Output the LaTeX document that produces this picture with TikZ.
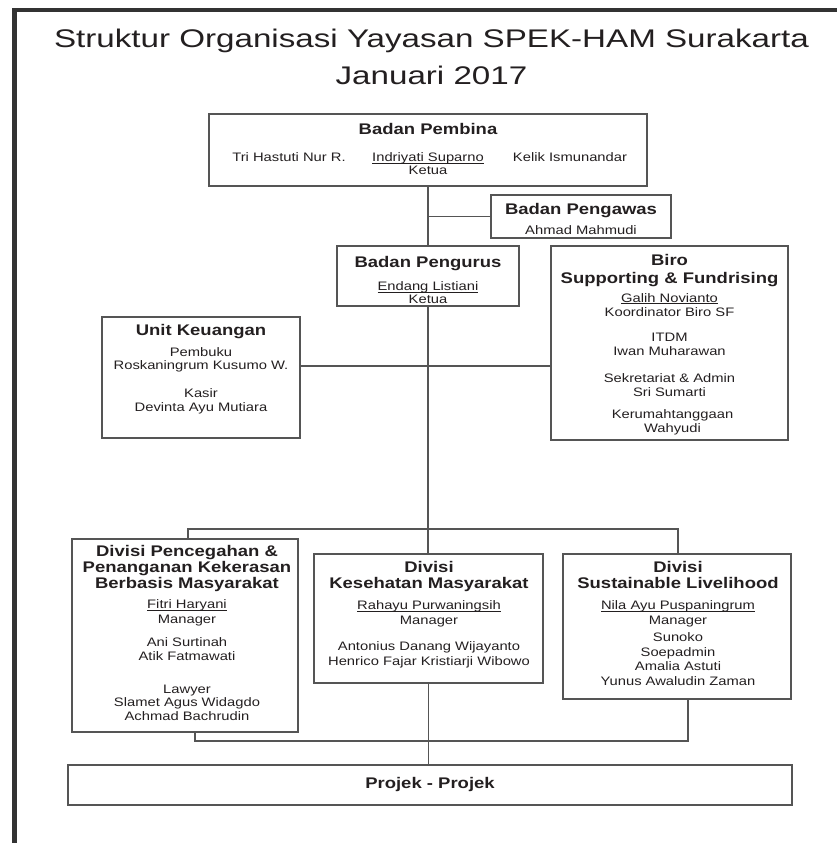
\documentclass[tikz,border=0pt]{standalone}
\usepackage{fontspec}
\setmainfont[FakeStretch=1.2]{Liberation Sans}
\newfontfamily\judulfont[FakeStretch=1.3]{Liberation Sans}
\definecolor{garis}{HTML}{555555}
\definecolor{tinta}{HTML}{231F20}
\definecolor{bingkai}{HTML}{333333}
\newcommand\pimpinan[1]{\setbox0\hbox{#1}\rlap{\rule[-1.8pt]{\wd0}{0.6pt}}\box0}
\tikzset{
  kotak/.style={draw=garis, line width=1.1pt, inner sep=0pt},
  kepala/.style={anchor=north, align=center, inner sep=0pt, text=tinta,
    font=\fontsize{15.4}{16}\selectfont\bfseries},
  isi/.style={anchor=north, align=center, inner sep=0pt, text=tinta,
    font=\fontsize{12.3}{14}\selectfont},
  sambung/.style={draw=garis, line width=1.1pt}
}
\begin{document}
\begin{tikzpicture}[x=1pt, y=-1pt]
		\useasboundingbox (0,0) rectangle (837,843);

		%Bingkai halaman
		\draw[bingkai, line width=4.5pt] (14.5,860) -- (14.5,10) -- (850,10);

		%Judul
		\node[anchor=north, align=center, inner sep=0pt, text=tinta, font=\judulfont\fontsize{25.5}{37}\selectfont] (judul) at (431.5,29)
			{Struktur Organisasi Yayasan SPEK-HAM Surakarta\\Januari 2017};

		%Kotak-kotak
		\node[kotak, minimum width=438pt, minimum height=72pt] (pembina) at (428,150) {};
		\node[kotak, minimum width=180pt, minimum height=43pt] (pengawas) at (581,216.5) {};
		\node[kotak, minimum width=182pt, minimum height=60pt] (pengurus) at (428,276) {};
		\node[kotak, minimum width=237pt, minimum height=194pt] (biro) at (669.5,343) {};
		\node[kotak, minimum width=198pt, minimum height=121pt] (keuangan) at (201,377.5) {};
		\node[kotak, minimum width=226pt, minimum height=193pt] (divisi1) at (185,635.5) {};
		\node[kotak, minimum width=229pt, minimum height=129pt] (divisi2) at (428.5,618.5) {};
		\node[kotak, minimum width=228pt, minimum height=145pt] (divisi3) at (677,626.5) {};
		\node[kotak, minimum width=724pt, minimum height=40pt, text=tinta, font=\fontsize{15.4}{16}\selectfont\bfseries] (projek) at (430,785) {Projek - Projek};

		%Badan Pembina
		\node[kepala] (pembina-j) at (428,123.5) {Badan Pembina};
		\node[isi] (pembina-a) at (289,152.6) {Tri Hastuti Nur R.};
		\node[isi] (pembina-b) at (428,152.6) {\pimpinan{Indriyati Suparno}\\[-1pt]Ketua};
		\node[isi] (pembina-c) at (570,152.6) {Kelik Ismunandar};

		%Badan Pengawas
		\node[kepala] (pengawas-j) at (581,203) {Badan Pengawas};
		\node[isi] (pengawas-t) at (581,225.6) {Ahmad Mahmudi};

		%Badan Pengurus
		\node[kepala] (pengurus-j) at (428,256) {Badan Pengurus};
		\node[isi] (pengurus-t) at (428,281.6) {\pimpinan{Endang Listiani}\\[-1pt]Ketua};

		%Biro
		\node[kepala] (biro-j) at (669.5,254.5) {Biro\\[1.5pt]Supporting \& Fundrising};
		\node[isi] (biro-t) at (669.5,293.1)
			{\pimpinan{Galih Novianto}\\Koordinator Biro SF\\[11.5pt]ITDM\\Iwan Muharawan\\[13pt]Sekretariat \& Admin\\Sri Sumarti\\[8pt]\hspace*{6pt}Kerumahtanggaan\\\hspace*{6pt}Wahyudi};

		%Unit Keuangan
		\node[kepala] (keuangan-j) at (201,324.5) {Unit Keuangan};
		\node[isi] (keuangan-t) at (201,347.6)
			{Pembuku\\[-1pt]Roskaningrum Kusumo W.\\[14pt]Kasir\\Devinta Ayu Mutiara};

		%Divisi-divisi
		\node[kepala] (divisi1-j) at (187,545.5) {Divisi Pencegahan \&\\Penanganan Kekerasan\\Berbasis Masyarakat};
		\node[isi] (divisi1-t) at (187,599.6)
			{\pimpinan{Fitri Haryani}\\[1pt]Manager\\[9pt]Ani Surtinah\\Atik Fatmawati\\[19pt]Lawyer\\[-1pt]Slamet Agus Widagdo\\Achmad Bachrudin};
		\node[kepala] (divisi2-j) at (429,561.5) {Divisi\\Kesehatan Masyarakat};
		\node[isi] (divisi2-t) at (429,600.6)
			{\pimpinan{Rahayu Purwaningsih}\\[1pt]Manager\\[12pt]Antonius Danang Wijayanto\\[1pt]Henrico Fajar Kristiarji Wibowo};
		\node[kepala] (divisi3-j) at (678,561.5) {Divisi\\Sustainable Livelihood};
		\node[isi] (divisi3-t) at (678,600.6)
			{\pimpinan{Nila Ayu Puspaningrum}\\[1pt]Manager\\[3pt]Sunoko\\[1pt]Soepadmin\\Amalia Astuti\\[1pt]Yunus Awaludin Zaman};

		%Garis penghubung
		\coordinate (simpang) at (428,366);
		\coordinate (bus-atas) at (428,529);
		\coordinate (bus-bawah) at (430,741);
		\draw[sambung] (pembina.south) -- (pengurus.north);
		\draw[sambung] (pembina.south |- pengawas.west) -- (pengawas.west);
		\draw[sambung] (pengurus.south) -- (pengurus.south |- divisi2.north);
		\draw[sambung] (keuangan.east |- simpang) -- (biro.west |- simpang);
		\draw[sambung] ([xshift=3pt]divisi1.north) |- (bus-atas) -| ([xshift=1pt]divisi3.north);
		\draw[sambung] ([xshift=10pt]divisi1.south) |- (bus-bawah) -| ([xshift=11pt]divisi3.south);
		\draw[sambung] (divisi2.south) -- (divisi2.south |- projek.north);

\end{tikzpicture}
\end{document}
